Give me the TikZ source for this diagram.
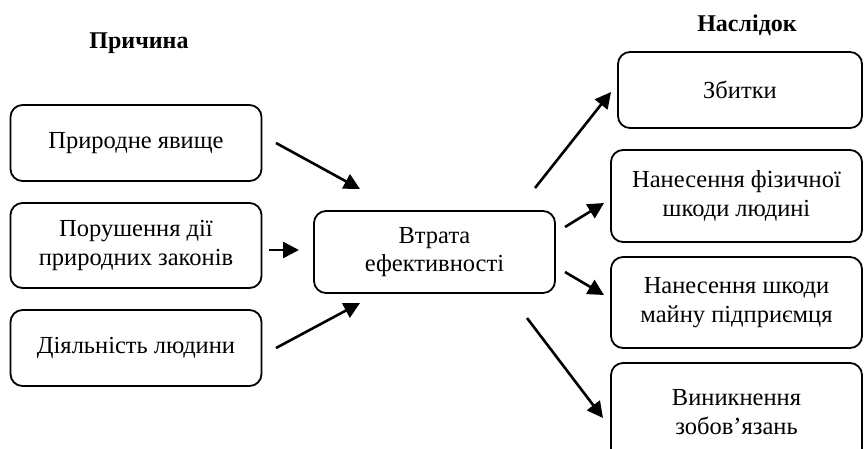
\documentclass[tikz,border=0pt]{standalone}
\usepackage{fontspec}
\setmainfont{Liberation Serif}
\usetikzlibrary{arrows.meta}
\begin{document}
\begin{tikzpicture}[x=1pt,y=-1pt,
  box/.style={draw,line width=1.8pt,rounded corners=12pt,align=center,inner sep=0pt,
    font=\fontsize{24.5}{28.5}\selectfont},
  arr/.style={line width=2.6pt,-{Triangle[length=16pt,width=16pt]}},
  head/.style={font=\fontsize{24}{27}\selectfont\bfseries}]
\useasboundingbox (0,0) rectangle (864,448);
\node[head] (hc) at (139,43) {Причина};
\node[head] (he) at (747,25) {Наслідок};
\node[box,minimum width=251pt,minimum height=76pt] (c1) at (136,143) {Природне явище};
\node[box,minimum width=251pt,minimum height=85pt] (c2) at (136,245.5) {Порушення дії\\природних законів};
\node[box,minimum width=251pt,minimum height=76pt] (c3) at (136,348) {Діяльність людини};
\node[box,minimum width=241pt,minimum height=82pt] (m) at (434.5,252) {Втрата\\ефективності};
\node[box,minimum width=244pt,minimum height=76pt] (e1) at (740,90) {Збитки};
\node[box,minimum width=251pt,minimum height=92pt] (e2) at (736.5,196) {Нанесення фізичної\\шкоди людині};
\node[box,minimum width=251pt,minimum height=91pt] (e3) at (736.5,302.5) {Нанесення шкоди\\майну підприємця};
\node[box,minimum width=251pt,minimum height=98pt] (e4) at (736.5,412) {Виникнення\\зобов’язань};
\coordinate (a1s) at (276,143); \coordinate (a1e) at (360,189);
\coordinate (a2s) at (269,250); \coordinate (a2e) at (299,250);
\coordinate (a3s) at (276,348); \coordinate (a3e) at (360,303);
\coordinate (b1s) at (535,188); \coordinate (b1e) at (611,92);
\coordinate (b2s) at (565,227); \coordinate (b2e) at (604,203);
\coordinate (b3s) at (565,272); \coordinate (b3e) at (604,295);
\coordinate (b4s) at (527,318); \coordinate (b4e) at (603,418);
\draw[arr] (a1s) -- (a1e);
\draw[arr] (a2s) -- (a2e);
\draw[arr] (a3s) -- (a3e);
\draw[arr] (b1s) -- (b1e);
\draw[arr] (b2s) -- (b2e);
\draw[arr] (b3s) -- (b3e);
\draw[arr] (b4s) -- (b4e);
\end{tikzpicture}
\end{document}
